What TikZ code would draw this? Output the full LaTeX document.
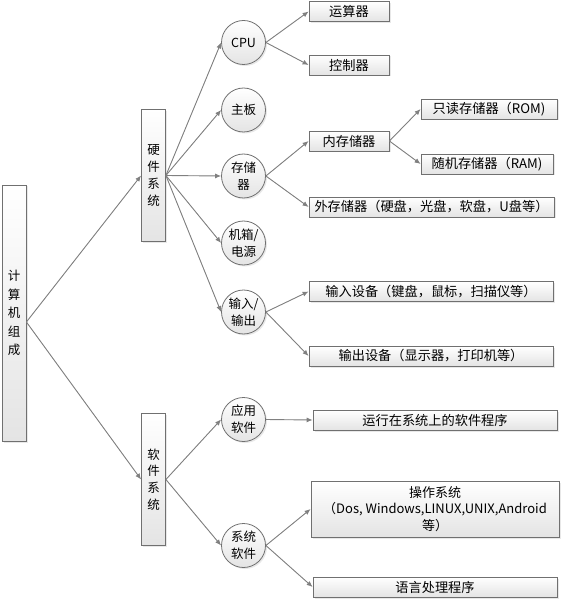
\documentclass[tikz,border=0pt]{standalone}
\usepackage{fontspec}
\setmainfont{Noto Sans CJK SC}
\usetikzlibrary{arrows.meta,shadows}
\definecolor{edgegray}{HTML}{808080}
\definecolor{linegray}{HTML}{707070}
\definecolor{shadegray}{HTML}{E4E4E4}
\begin{document}
\begin{tikzpicture}[x=1pt,y=-1pt,
  base/.style={draw=linegray, line width=0.8pt, top color=white, bottom color=shadegray,
    drop shadow={opacity=0.18, shadow xshift=1.5pt, shadow yshift=-1.5pt},
    inner sep=0pt, align=center, font=\fontsize{12.5}{17}\selectfont},
  box/.style={base, rectangle, minimum height=20pt, font=\fontsize{13.2}{17}\selectfont},
  vbox/.style={base, rectangle, minimum width=24pt},
  circ/.style={base, circle, minimum size=44pt},
  conn/.style={draw=edgegray, line width=0.9pt, -{Latex[length=6pt,width=5pt]}, fill=edgegray}
]
\useasboundingbox (0,0) rectangle (563,601);

% left column
\node[vbox, minimum height=256pt, font=\fontsize{12.5}{18.5}\selectfont] (root) at (14,313) {计\\算\\机\\组\\成};
\node[vbox, minimum height=132pt, font=\fontsize{12.5}{16.7}\selectfont] (hw) at (153.5,175.5) {硬\\件\\系\\统};
\node[vbox, minimum height=132pt, font=\fontsize{12.5}{16.7}\selectfont] (sw) at (153.5,479.5) {软\\件\\系\\统};

% circles
\node[circ] (cpu) at (243.5,42.5) {CPU};
\node[circ] (zb) at (243.5,110) {主板};
\node[circ] (cc) at (243.5,176) {存储\\器};
\node[circ] (jx) at (243.5,243) {机箱/\\电源};
\node[circ] (io) at (243.5,312) {输入/\\输出};
\node[circ] (yy) at (243.5,419.5) {应用\\软件};
\node[circ] (xt) at (243.5,545.5) {系统\\软件};

% right boxes
\node[box, minimum width=80pt] (ys) at (349,11.5) {运算器};
\node[box, minimum width=80pt] (kz) at (349,65) {控制器};
\node[box, minimum width=80pt] (nc) at (349,141) {内存储器};
\node[box, minimum width=136pt] (zd) at (489,109) {只读存储器（ROM)};
\node[box, minimum width=132pt] (sj) at (487,164) {随机存储器（RAM)};
\node[box, minimum width=245pt] (wc) at (431.5,207) {外存储器（硬盘，光盘，软盘，U盘等）};
\node[box, minimum width=244pt] (sr) at (431,291.5) {输入设备（键盘，鼠标，扫描仪等）};
\node[box, minimum width=244pt] (sc) at (431,356) {输出设备（显示器，打印机等）};
\node[box, minimum width=244pt] (yx) at (435,420) {运行在系统上的软件程序};
\node[box, minimum width=248pt, minimum height=56pt, font=\fontsize{13}{16.5}\selectfont] (cz) at (435,509) {操作系统\\（Dos, Windows,LINUX,UNIX,Android\\等）};
\node[box, minimum width=244pt] (yc) at (435,587) {语言处理程序};

% connectors
\draw[conn] ([yshift=-9pt]root.east) -- (hw.west);
\draw[conn] ([yshift=-9pt]root.east) -- (sw.west);
\foreach \t in {cpu,zb,cc,jx,io} \draw[conn] (hw.east) -- (\t.west);
\foreach \t in {yy,xt} \draw[conn] (sw.east) -- (\t.west);
\draw[conn] (cpu.east) -- (ys.west);
\draw[conn] (cpu.east) -- (kz.west);
\draw[conn] (cc.east) -- (nc.west);
\draw[conn] (cc.east) -- (wc.west);
\draw[conn] (nc.east) -- (zd.west);
\draw[conn] (nc.east) -- (sj.west);
\draw[conn] (io.east) -- (sr.west);
\draw[conn] (io.east) -- (sc.west);
\draw[conn] (yy.east) -- (yx.west);
\draw[conn] (xt.east) -- (cz.west);
\draw[conn] (xt.east) -- (yc.west);
\end{tikzpicture}
\end{document}
